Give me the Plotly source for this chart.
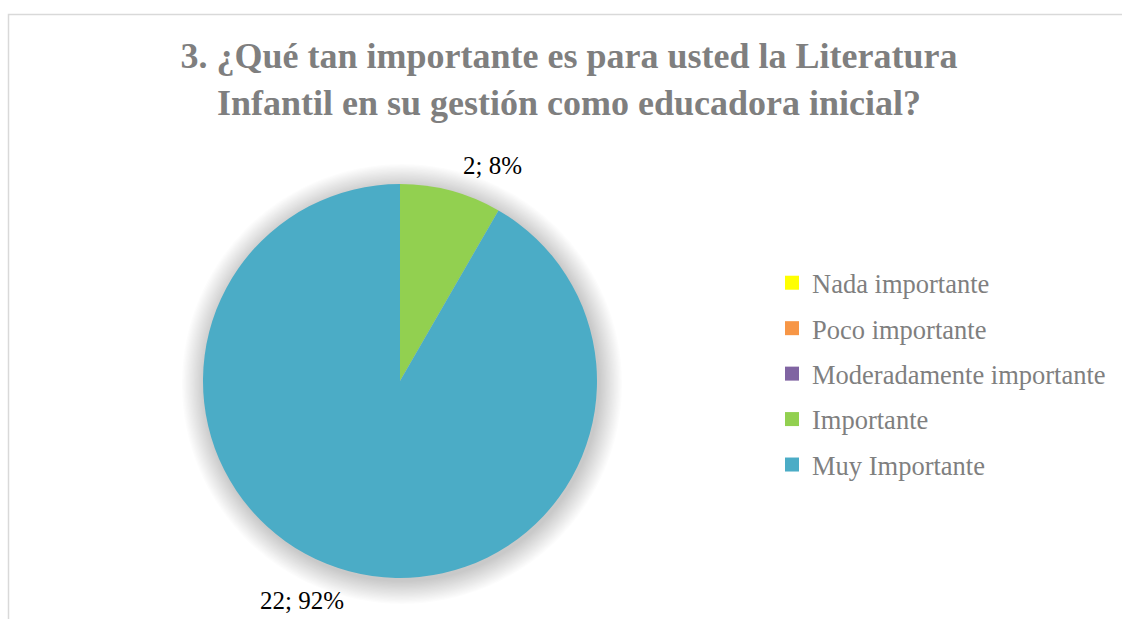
import plotly.graph_objects as go

categories = ["Nada importante", "Poco importante", "Moderadamente importante",
              "Importante", "Muy Importante"]
values = [0, 0, 0, 2, 22]
colors = ["#FFFF00", "#F79646", "#8064A2", "#92D050", "#4BACC6"]
title_text = "3. ¿Qué tan importante es para usted la Literatura<br>Infantil en su gestión como educadora inicial?"

W, H = 1122, 619
SERIF = "Times New Roman, Liberation Serif, serif"
total = sum(values)
pct = [round(v / total * 100) for v in values]
label_text = [f"{v}; {p}%" for v, p in zip(values, pct)]

# pie geometry (pixels)
cx, cy, r = 400, 381, 197
dom_x = [(cx - r) / W, (cx + r) / W]
dom_y = [1 - (cy + r) / H, 1 - (cy - r) / H]

fig = go.Figure()
fig.add_trace(go.Pie(
    labels=categories, values=values, sort=False, direction="clockwise",
    rotation=0, marker=dict(colors=colors, line=dict(width=0)),
    textinfo="none", showlegend=False, domain=dict(x=dom_x, y=dom_y),
))

for i, (c, col) in enumerate(zip(categories, colors)):
    fig.add_trace(go.Scatter(
        x=[None], y=[None], mode="markers", name=c, legendgroup=f"g{i}",
        marker=dict(symbol="square", size=14, color=col),
    ))

# soft shadow around pie
shapes = []
for k in range(18):
    rr = r + 1 + k * 1.3
    shapes.append(dict(
        type="circle", xref="paper", yref="paper", layer="below",
        x0=(cx + 2 - rr) / W, x1=(cx + 2 + rr) / W,
        y0=1 - (cy + 3 + rr) / H, y1=1 - (cy + 3 - rr) / H,
        fillcolor="rgba(0,0,0,0.013)", line=dict(width=0),
    ))
# chart border
shapes.append(dict(type="rect", xref="paper", yref="paper", layer="below",
                   x0=8.5 / W, x1=1.2, y0=-0.2, y1=1 - 14.5 / H,
                   line=dict(color="#d9d9d9", width=1.5), fillcolor="rgba(0,0,0,0)"))

annotations = [
    dict(text=label_text[3], x=492 / W, y=1 - 165 / H, xref="paper", yref="paper",
         xanchor="center", yanchor="middle", showarrow=False,
         font=dict(family=SERIF, size=25, color="#000000")),
    dict(text=label_text[4], x=302 / W, y=1 - 600 / H, xref="paper", yref="paper",
         xanchor="center", yanchor="middle", showarrow=False,
         font=dict(family=SERIF, size=25, color="#000000")),
]

fig.update_layout(
    width=W, height=H, margin=dict(l=0, r=0, t=0, b=0),
    paper_bgcolor="white", plot_bgcolor="white",
    title=dict(text=title_text, x=569 / W, xanchor="center", y=1 - 68 / H, yanchor="middle",
               font=dict(family=SERIF, size=36, color="#7f7f7f", weight="bold")),
    xaxis=dict(visible=False), yaxis=dict(visible=False),
    legend=dict(x=772 / W, y=1 - 259 / H, xanchor="left", yanchor="top",
                font=dict(family=SERIF, size=26.5, color="#7f7f7f"),
                traceorder="grouped", tracegroupgap=8, itemwidth=30,
                bgcolor="rgba(0,0,0,0)"),
    shapes=shapes, annotations=annotations,
)

fig.write_html("out.html", config={"displayModeBar": False},
               post_script="document.body.style.margin='0';document.body.style.overflow='hidden';")
